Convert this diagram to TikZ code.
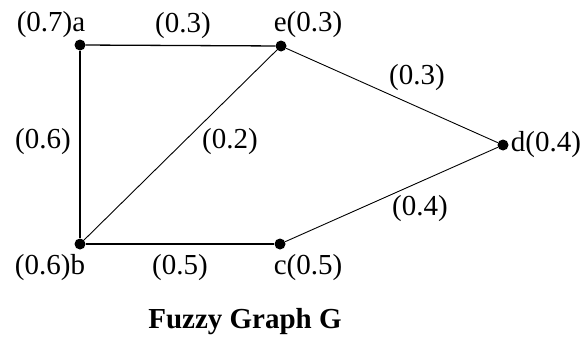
\documentclass[tikz,border=0pt]{standalone}
\usepackage{fontspec}
\setmainfont{Liberation Serif}
\usetikzlibrary{positioning}

\begin{document}
\begin{tikzpicture}[
  x=1pt, y=-1pt,
  vertex/.style={circle, fill=black, inner sep=0pt, minimum size=11pt},
  lbl/.style={inner sep=0pt, font=\fontsize{29}{32}\selectfont},
  edge/.style={line width=1.3pt},
  diag/.style={line width=0.9pt}
]
\useasboundingbox (0,0) rectangle (587,340);

\node[vertex] (a) at (80,45) {};
\node[vertex] (e) at (281,46) {};
\node[vertex] (d) at (503,145) {};
\node[vertex] (b) at (80,244) {};
\node[vertex] (c) at (280,244) {};

\draw[edge] (a) -- (e);
\draw[edge] (a) -- (b);
\draw[edge] (b) -- (c);
\draw[diag] (b) -- (e);
\draw[diag] (e) -- (d);
\draw[diag] (c) -- (d);

% vertex labels
\node[lbl] (la) at (51,25) {(0.7)a};
\node[lbl] (le) at (308,25) {e(0.3)};
\node[lbl] (ld) at (546,145) {d(0.4)};
\node[lbl] (lb) at (50,268) {(0.6)b};
\node[lbl] (lc) at (308,268) {c(0.5)};

% edge labels
\node[lbl] (wae) at (183,26) {(0.3)};
\node[lbl] (wab) at (43,142) {(0.6)};
\node[lbl] (wbe) at (230,142) {(0.2)};
\node[lbl] (wed) at (417,78) {(0.3)};
\node[lbl] (wcd) at (420,209) {(0.4)};
\node[lbl] (wbc) at (180,268) {(0.5)};

\node[lbl, font=\fontsize{29}{32}\selectfont\bfseries] (title) at (245,322) {Fuzzy Graph G};
\end{tikzpicture}
\end{document}
